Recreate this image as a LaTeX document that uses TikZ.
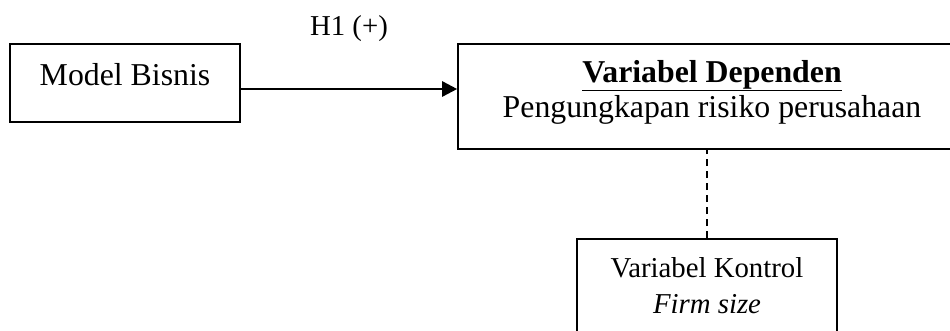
\documentclass[tikz,border=0pt]{standalone}
\usepackage{fontspec}
\setmainfont{Liberation Serif}
\usetikzlibrary{arrows.meta}
\begin{document}
\begin{tikzpicture}[x=1pt,y=-1pt,
  box/.style={draw=black, line width=1.6pt, rectangle, inner sep=0pt},
  big/.style={font=\fontsize{31.8}{34.5}\selectfont, inner sep=0pt, anchor=base},
  small/.style={font=\fontsize{28.8}{36}\selectfont, inner sep=0pt, anchor=base},
  conn/.style={line width=2.6pt, -{Triangle[length=15pt,width=15pt]}},
  dashconn/.style={line width=1.5pt, dash pattern=on 7pt off 5pt}]
\useasboundingbox (0,0) rectangle (950,330);
% boxes
\node[box, minimum width=230pt, minimum height=78pt] (mb) at (125,83) {};
\node[box, minimum width=508pt, minimum height=105pt] (dep) at (712,96.5) {};
\node[box, minimum width=260pt, minimum height=100pt] (kon) at (707,289) {};
% texts
\node[big] (mbt) at (125,85) {Model Bisnis};
\node[small] (h1) at (349,35) {H1 (+)};
\node[big] (dept1) at (712,82) {\underline{\textbf{Variabel Dependen}}};
\node[big] (dept2) at (712,117) {Pengungkapan risiko perusahaan};
\node[small] (kont1) at (707,277) {Variabel Kontrol};
\node[small] (kont2) at (707,313) {\textit{Firm size}};
% connectors
\draw[conn] ([yshift=-6pt]mb.east) -- ([yshift=-6pt]mb.east -| dep.west);
\draw[dashconn] (kon.north) -- (kon.north |- dep.south);
\end{tikzpicture}
\end{document}
